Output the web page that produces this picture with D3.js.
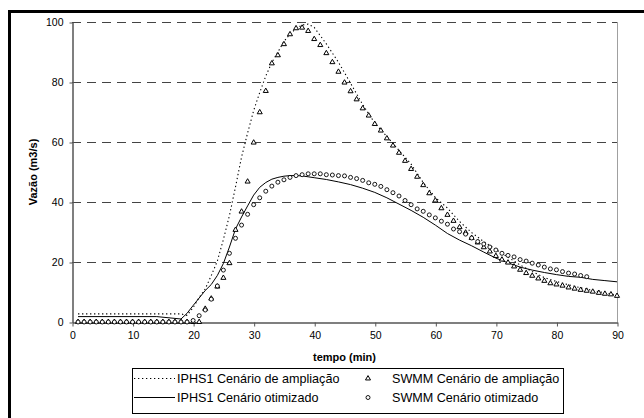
<!DOCTYPE html>
<html>
<head>
<meta charset="utf-8">
<script src="https://cdn.jsdelivr.net/npm/d3@7"></script>
<style>
  body { margin: 0; background: #fff; }
  #chart { position: relative; width: 644px; height: 418px; overflow: hidden; }
  #frame { position: absolute; left: 8px; top: 10px; width: 700px; height: 500px;
           border-left: 3px solid #000; border-top: 3px solid #000; pointer-events: none; }
  text { font-family: Arial, "Liberation Sans", sans-serif; fill: #000; }
</style>
</head>
<body>
<div id="chart"><div id="frame"></div></div>
<script>
/* Hidrograma IPHS1 x SWMM */

// SWMM points, one per minute
const swmmTime = d3.range(1, 91);
const swmmAmpliacao = [
  0, 0, 0, 0, 0, 0, 0, 0, 0, 0, 0, 0, 0, 0, 0, 0, 0, 0, 0, 0,
  0, 4.4, 7.8, 11.8, 14.7, 19.6, 30.7, 36.8, 46.8, 59.8,
  69.9, 77, 86.2, 88.9, 92.6, 95.9, 97.9, 98.1, 97, 94.3,
  92.3, 89.6, 86.6, 83.4, 79.8, 76.9, 74.2, 71.2, 68.8, 66,
  63.8, 61.2, 58.8, 56.4, 53.7, 51, 48.4, 45.6, 42.9, 40.5,
  37.9, 35.7, 33.7, 31.6, 29.8, 28, 26.5, 24.9, 23.5, 22,
  20.8, 19.8, 18.5, 17.4, 16.3, 15.4, 14.5, 13.7, 12.9, 12.5,
  12.1, 11.5, 11.1, 10.7, 10.4, 10.1, 9.7, 9.4, 9.2, 8.7
];
const swmmOtimizado = [
  0, 0, 0, 0, 0, 0, 0, 0, 0, 0, 0, 0, 0, 0, 0, 0, 0, 0, 0, 0.5,
  2.1, 4, 7.6, 12, 17.3, 22.9, 27.9, 32.3, 35.9, 39.1,
  41.4, 43.6, 45.3, 46.6, 47.4, 48.2, 48.8, 49.1, 49.4, 49.4,
  49.4, 49.1, 49, 48.8, 48.7, 48.2, 47.8, 47.2, 46.4, 45.9,
  45.2, 44.1, 43.1, 42, 40.5, 39.1, 37.7, 36.9, 35.7, 34.7,
  33.6, 32.6, 31, 30.1, 29.3, 28, 26.8, 26, 25, 24,
  22.9, 22.2, 21.7, 20.8, 20.3, 19.6, 19, 18.3, 17.7, 17.4,
  16.8, 16.3, 16, 15.5, 15.1
];

// IPHS1 curves
const iphsTime = [1, 14, 18, 19, 20, 21, 22, 23, 24, 25, 26, 27, 28, 29, 30,
  31, 32, 33, 34, 35, 36, 37, 38, 39, 40, 42, 44, 46, 48, 50, 52, 54, 56, 58,
  60, 62, 64, 66, 68, 70, 72, 74, 76, 78, 80, 82, 84, 86, 88, 90];
const iphsAmpliacao = [2.7, 2.7, 2.7, 2.2, 4.8, 8.2, 11, 15.5, 20.3, 27.5, 35.5,
  45, 55, 63, 70.5, 76.5, 82, 86.5, 90, 93.5, 96, 97.8, 99, 99.3, 98.2,
  92.7, 86.6, 79.6, 72.5, 66.3, 61.8, 57.2, 52.6, 46.5, 41.5, 38, 33.5, 29.8,
  26.8, 24.2, 21.6, 19, 16.8, 14.8, 13.5, 12.4, 11.4, 10.5, 9.7, 9];
const iphsOtimizado = [1.8, 1.8, 1, 2.9, 5.5, 8, 10.5, 12.5, 15.5, 19.5, 25,
  31, 35, 38.7, 42.3, 44.9, 46.5, 47.6, 48.2, 48.6, 48.8, 48.8, 48.7, 48.4, 48.1,
  47.5, 46.7, 45.8, 44.6, 43.2, 41.4, 39.3, 37.2, 34.9, 32.3, 29.5, 27.3, 25.4,
  23.3, 21.3, 19.7, 18.3, 17.3, 16.5, 15.8, 15.2, 14.9, 14.2, 13.8, 13.4];

const xTicks = [0, 10, 20, 30, 40, 50, 60, 70, 80, 90];
const yTicks = [0, 20, 40, 60, 80, 100];
const legendLabels = ["IPHS1 Cenário de ampliação", "IPHS1 Cenário otimizado",
  "SWMM Cenário de ampliação", "SWMM Cenário otimizado"];

const height = 418,
    width = 644,
    margin = ({ top: 22, right: 27, bottom: 96, left: 72 });

const svg = d3.select("#chart")
    .append("svg")
    .attr("width", width)
    .attr("height", height)
    .style("display", "block");

svg.append("rect")                                         // outer frame (left/top in view)
    .attr("x", 8).attr("y", 10)
    .attr("width", 3).attr("height", height - 10)
    .attr("fill", "#000");
svg.append("rect")
    .attr("x", 8).attr("y", 10)
    .attr("width", width - 8).attr("height", 3)
    .attr("fill", "#000");

let x = d3.scaleLinear()
    .domain([0, 90])
    .range([margin.left, width - margin.right]);

let y = d3.scaleLinear()
    .domain([0, 100])
    .range([height - margin.bottom, margin.top]);

// dashed grid
svg.append("g")
    .selectAll("line")
    .data(yTicks.filter(d => d > 0))
    .join("line")
      .attr("x1", x(0)).attr("x2", x(90))
      .attr("y1", d => Math.round(y(d)) + 0.5)
      .attr("y2", d => Math.round(y(d)) + 0.5)
      .attr("stroke", "#444")
      .attr("stroke-dasharray", "9,6");

svg.append("line")                                         // right border of plot
    .attr("x1", x(90) + 0.5).attr("x2", x(90) + 0.5)
    .attr("y1", y(100)).attr("y2", y(0))
    .attr("stroke", "#a0a0a0");

const xAxis = svg.append("g")
    .attr("transform", `translate(0.5,${Math.round(y(0)) + 0.5})`)
    .call(d3.axisBottom(x).tickValues(xTicks).tickSize(4).tickSizeOuter(0).tickPadding(5));

const yAxis = svg.append("g")
    .attr("transform", `translate(${x(0) + 0.5},0.5)`)
    .call(d3.axisLeft(y).tickValues(yTicks).tickSize(3).tickSizeOuter(0).tickPadding(6));

for (let g of [xAxis, yAxis]) {
  g.select(".domain").attr("stroke", "#555").attr("stroke-width", 1.5);
  g.selectAll(".tick line").attr("stroke", "#555");
  g.selectAll(".tick text")
    .attr("font-size", 10.5)
    .attr("font-family", "Arial, 'Liberation Sans', sans-serif")
    .attr("fill", "#222");
}

svg.append("text")                                         // x-label
    .attr("x", (x(0) + x(90)) / 2)
    .attr("y", 361)
    .attr("text-anchor", "middle")
    .attr("font-size", 11)
    .attr("font-weight", "bold")
    .text("tempo (min)");

svg.append("text")                                         // y-label
    .attr("transform", `translate(37,${(y(0) + y(100)) / 2}) rotate(-90)`)
    .attr("text-anchor", "middle")
    .attr("font-size", 11)
    .attr("font-weight", "bold")
    .text("Vazão (m3/s)");

let line = d3.line()
    .x(d => x(d[0]))
    .y(d => y(d[1]));

svg.append("path")                                         // IPHS1 ampliação, dotted
    .datum(d3.zip(iphsTime, iphsAmpliacao))
    .attr("d", line)
    .attr("fill", "none")
    .attr("stroke", "#000")
    .attr("stroke-width", 1.1)
    .attr("stroke-dasharray", "1.3,2.7");

svg.append("path")                                         // IPHS1 otimizado, solid
    .datum(d3.zip(iphsTime, iphsOtimizado))
    .attr("d", line)
    .attr("fill", "none")
    .attr("stroke", "#000")
    .attr("stroke-width", 1);

const tri = d3.symbol().type(d3.symbolTriangle).size(11);

svg.append("g")                                            // SWMM ampliação triangles
    .selectAll("path")
    .data(d3.zip(swmmTime, swmmAmpliacao))
    .join("path")
      .attr("d", tri)
      .attr("transform", d => `translate(${x(d[0])},${y(d[1])})`)
      .attr("fill", "#fff")
      .attr("stroke", "#000")
      .attr("stroke-width", 1);

svg.append("g")                                            // SWMM otimizado circles
    .selectAll("circle")
    .data(d3.zip(swmmTime, swmmOtimizado))
    .join("circle")
      .attr("cx", d => x(d[0]))
      .attr("cy", d => y(d[1]))
      .attr("r", 2)
      .attr("fill", "#fff")
      .attr("stroke", "#000")
      .attr("stroke-width", 0.9);

// legend
const legend = svg.append("g");

legend.append("rect")
    .attr("x", 132.5).attr("y", 368.5)
    .attr("width", 431).attr("height", 45)
    .attr("fill", "#fff")
    .attr("stroke", "#000");

const rowY = [378.5, 397.5];

legend.append("line")
    .attr("x1", 134).attr("x2", 175).attr("y1", rowY[0]).attr("y2", rowY[0])
    .attr("stroke", "#000").attr("stroke-dasharray", "1.3,2.7");
legend.append("line")
    .attr("x1", 134).attr("x2", 175).attr("y1", rowY[1]).attr("y2", rowY[1])
    .attr("stroke", "#000");
legend.append("path")
    .attr("d", tri)
    .attr("transform", `translate(368,${rowY[0]})`)
    .attr("fill", "#fff").attr("stroke", "#000").attr("stroke-width", 1);
legend.append("circle")
    .attr("cx", 368).attr("cy", rowY[1]).attr("r", 2)
    .attr("fill", "#fff").attr("stroke", "#000").attr("stroke-width", 0.9);

legend.selectAll("text.lbl")
    .data(legendLabels)
    .join("text")
      .attr("class", "lbl")
      .attr("x", (d, i) => i < 2 ? 177 : 392)
      .attr("y", (d, i) => rowY[i % 2])
      .attr("dy", "0.36em")
      .attr("font-size", 12.6)
      .text(d => d);
</script>
</body>
</html>
